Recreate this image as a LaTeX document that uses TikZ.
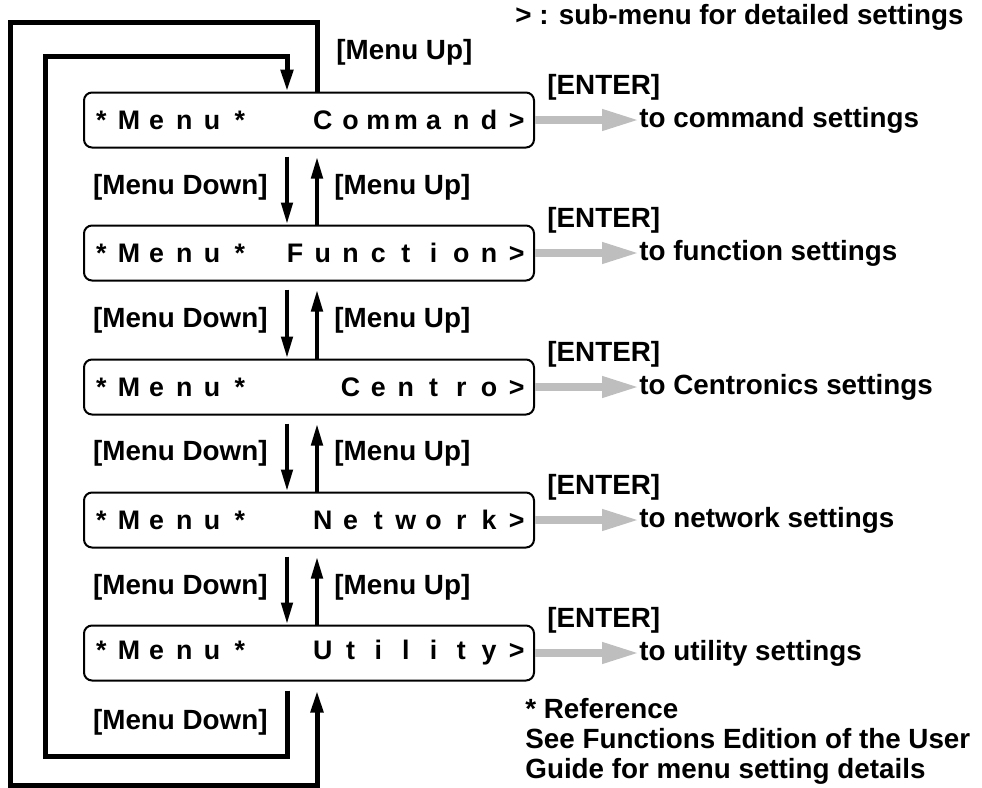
\documentclass[tikz,border=0pt]{standalone}
\usepackage{fontspec}
\setmainfont{Liberation Sans}
\usepackage{xcolor}
\usepackage{tikz}
\usetikzlibrary{arrows.meta, calc}
\definecolor{enterGray}{HTML}{BEBEBE}
\newcommand{\lcdpitch}{13.85pt}
\newcommand{\lcd}[1]{\foreach \lcdch in {#1}{\makebox[\lcdpitch][c]{\lcdch}}}

\begin{document}
\begin{tikzpicture}[x=0.5pt, y=-0.5pt,
  menubox/.style={draw, line width=1pt, rounded corners=4pt, minimum width=225pt, minimum height=27.5pt, inner sep=0pt, font=\fontsize{13.4pt}{15pt}\selectfont\bfseries},
  lbl/.style={inner sep=0pt, font=\fontsize{13.9pt}{15pt}\selectfont\bfseries},
  navarr/.style={line width=2.2pt, -{Triangle[length=11pt, width=5.5pt]}},
  looparr/.style={line width=2.5pt, -{Triangle[length=11pt, width=6pt]}},
  enterarr/.style={draw=enterGray, line width=3.6pt, -{Triangle[length=18.5pt, width=10pt]}}]
  \useasboundingbox (0,0) rectangle (982,788);
  \coordinate (dn) at (287,0);
  \coordinate (up) at (317,0);
  \coordinate (otop) at (10,22);
  \coordinate (obot) at (10,785);
  \coordinate (itop) at (45,56);
  \coordinate (ibot) at (45,756);

  % menu screens
  \node[menubox] (cmd) at (309,120) {\lcd{*,M,e,n,u,*,{},{},C,o,m,m,a,n,d,>}};
  \node[menubox] (fun) at (309,253) {\lcd{*,M,e,n,u,*,{},F,u,n,c,t,i,o,n,>}};
  \node[menubox] (cen) at (309,387) {\lcd{*,M,e,n,u,*,{},{},{},C,e,n,t,r,o,>}};
  \node[menubox] (net) at (309,520) {\lcd{*,M,e,n,u,*,{},{},N,e,t,w,o,r,k,>}};
  \node[menubox] (uti) at (309,653) {\lcd{*,M,e,n,u,*,{},{},U,t,i,l,i,t,y,>}};

  % up / down between screens
  \draw[navarr] ($(cmd.south -| dn)+(0,8)$) -- (fun.north -| dn);
  \draw[navarr] (fun.north -| up) -- ($(cmd.south -| up)+(0,8)$);
  \draw[navarr] ($(fun.south -| dn)+(0,8)$) -- (cen.north -| dn);
  \draw[navarr] (cen.north -| up) -- ($(fun.south -| up)+(0,8)$);
  \draw[navarr] ($(cen.south -| dn)+(0,8)$) -- (net.north -| dn);
  \draw[navarr] (net.north -| up) -- ($(cen.south -| up)+(0,8)$);
  \draw[navarr] ($(net.south -| dn)+(0,8)$) -- (uti.north -| dn);
  \draw[navarr] (uti.north -| up) -- ($(net.south -| up)+(0,8)$);

  % wrap-around loops
  \draw[looparr] (cmd.north -| up) |- (otop) -- (obot) -| ($(uti.south -| up)+(0,9)$);
  \draw[looparr] ($(uti.south -| dn)+(0,9)$) |- (ibot) -- (itop) -| (cmd.north -| dn);

  \node[lbl, anchor=west] (up0) at (336,52) {[Menu Up]};
  \node[lbl, anchor=east] (dn1) at (268,187) {[Menu Down]};
  \node[lbl, anchor=west] (up1) at (334,187) {[Menu Up]};
  \node[lbl, anchor=east] (dn2) at (268,320) {[Menu Down]};
  \node[lbl, anchor=west] (up2) at (334,320) {[Menu Up]};
  \node[lbl, anchor=east] (dn3) at (268,453) {[Menu Down]};
  \node[lbl, anchor=west] (up3) at (334,453) {[Menu Up]};
  \node[lbl, anchor=east] (dn4) at (268,587) {[Menu Down]};
  \node[lbl, anchor=west] (up4) at (334,587) {[Menu Up]};
  \node[lbl, anchor=east] (dn5) at (268,722) {[Menu Down]};

  % enter to sub-menus
  \node[lbl, anchor=west] (cmdent) at ($(cmd.east)+(12,-33)$) {[ENTER]};
  \node[lbl, anchor=west] (cmdto) at ($(cmd.east)+(104,0)$) {to command settings};
  \draw[enterarr] (cmd.east) -- (cmdto.west);
  \node[lbl, anchor=west] (funent) at ($(fun.east)+(12,-33)$) {[ENTER]};
  \node[lbl, anchor=west] (funto) at ($(fun.east)+(104,0)$) {to function settings};
  \draw[enterarr] (fun.east) -- (funto.west);
  \node[lbl, anchor=west] (cenent) at ($(cen.east)+(12,-33)$) {[ENTER]};
  \node[lbl, anchor=west] (cento) at ($(cen.east)+(104,0)$) {to Centronics settings};
  \draw[enterarr] (cen.east) -- (cento.west);
  \node[lbl, anchor=west] (netent) at ($(net.east)+(12,-33)$) {[ENTER]};
  \node[lbl, anchor=west] (netto) at ($(net.east)+(104,0)$) {to network settings};
  \draw[enterarr] (net.east) -- (netto.west);
  \node[lbl, anchor=west] (utient) at ($(uti.east)+(12,-33)$) {[ENTER]};
  \node[lbl, anchor=west] (utito) at ($(uti.east)+(104,0)$) {to utility settings};
  \draw[enterarr] (uti.east) -- (utito.west);

  % notes
  \node[lbl, anchor=west] (legend) at (515,17) {> : sub-menu for detailed settings};
  \node[lbl, anchor=north west, align=left] (refnote) at (525,698) {* Reference\\See Functions Edition of the User\\Guide for menu setting details};
\end{tikzpicture}
\end{document}
